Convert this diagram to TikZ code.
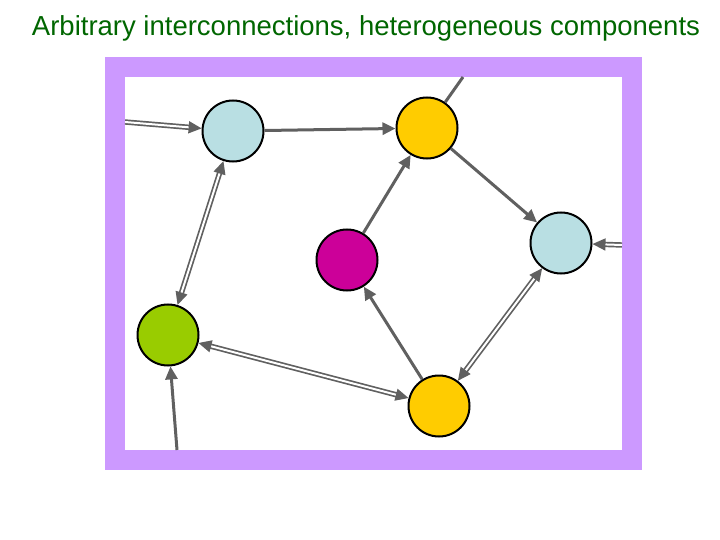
\documentclass[tikz,border=0pt]{standalone}
\usepackage{fontspec}
\setmainfont{Liberation Sans}
\usetikzlibrary{arrows.meta}
\definecolor{frame}{RGB}{204,153,255}
\definecolor{lblue}{RGB}{185,223,227}
\definecolor{yel}{RGB}{255,204,0}
\definecolor{mag}{RGB}{204,0,153}
\definecolor{grn}{RGB}{153,204,0}
\definecolor{ttl}{RGB}{0,102,0}
\definecolor{ar}{RGB}{96,96,96}
\tikzset{
  nd/.style={circle,draw=black,line width=2pt,minimum size=61pt,inner sep=0pt},
  sa/.style={draw=ar,line width=3pt,-{Triangle[length=13pt,width=12pt]}},
  da/.style={draw=ar,double=white,double distance=2pt,line width=1.7pt,-{Triangle[length=13pt,width=12pt]}},
  dd/.style={da,{Triangle[length=13pt,width=12pt]}-{Triangle[length=13pt,width=12pt]}},
}
\begin{document}
\begin{tikzpicture}[x=1pt,y=-1pt]
\useasboundingbox (0,0) rectangle (720,540);
\node[text=ttl,font=\fontsize{27.5}{30}\selectfont] (t) at (366,28) {Arbitrary interconnections, heterogeneous components};
\draw[frame,line width=20pt] (115,67) rectangle (632,460);
\node[nd,fill=lblue] (A) at (233,131) {};
\node[nd,fill=yel] (B) at (427,128) {};
\node[nd,fill=mag] (C) at (347,260) {};
\node[nd,fill=lblue] (D) at (561,243) {};
\node[nd,fill=grn] (E) at (168,335) {};
\node[nd,fill=yel] (F) at (439,406) {};
\coordinate (l) at (125,122);
\coordinate (tp) at (463,77);
\coordinate (r) at (622,245);
\coordinate (bt) at (177,450);
\draw[da] (l) -- (A);
\draw[sa] (A) -- (B);
\draw[draw=ar,line width=3pt] (B) -- (tp);
\draw[sa] (C) -- (B);
\draw[sa] (B) -- (D);
\draw[da] (r) -- (D);
\draw[dd] (D) -- (F);
\draw[sa] (F) -- (C);
\draw[dd] (E) -- (F);
\draw[dd] (A) -- (E);
\draw[sa] (bt) -- (E);
\end{tikzpicture}
\end{document}
